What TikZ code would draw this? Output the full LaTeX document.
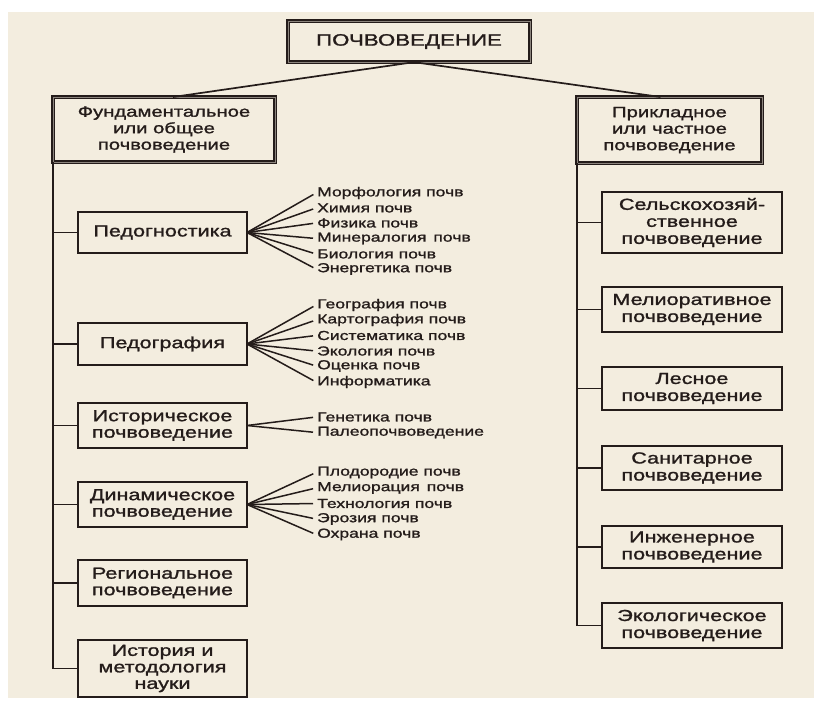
\documentclass[tikz,border=0pt]{standalone}
\usepackage{fontspec}
\setmainfont{Liberation Sans}[FakeStretch=1.35, FakeBold=1.3]
\definecolor{paper}{RGB}{243,237,223}
\definecolor{ink}{RGB}{36,28,26}
\tikzset{
  lbox/.style={draw=ink, line width=2.6, minimum width=169, inner sep=0, outer sep=0,
    align=center, text=ink, font=\fontsize{16}{16.5}\selectfont},
  rbox/.style={draw=ink, line width=2.4, minimum width=180, inner sep=0, outer sep=0,
    align=center, text=ink, font=\fontsize{16}{17}\selectfont},
  dbox/.style={draw=ink, line width=1.6, double=ink!50!paper, double distance=0.9,
    inner sep=0, outer sep=0, align=center, text=ink},
  br/.style={anchor=west, inner sep=1, text=ink, font=\fontsize{13}{13.5}\selectfont},
  con/.style={draw=ink, line width=1.7},
  fan/.style={draw=ink, line width=1.5, shorten >=3},
}
\begin{document}
\begin{tikzpicture}[x=1pt,y=-1pt]
\useasboundingbox (0,0) rectangle (814,702);
\fill[white] (0,0) rectangle (814,702);
\fill[paper] (8,12) rectangle (814,698);

% top level
\node[dbox, minimum width=242, minimum height=41, font=\fontsize{16.5}{17}\selectfont] (top) at (409,41.5) {ПОЧВОВЕДЕНИЕ};
\node[dbox, minimum width=222, minimum height=65, font=\fontsize{15}{16.5}\selectfont] (fund) at (164,129.5) {Фундаментальное\\или общее\\почвоведение};
\node[dbox, minimum width=185, minimum height=66, font=\fontsize{15}{16.5}\selectfont] (appl) at (669.5,130) {Прикладное\\или частное\\почвоведение};
\draw[con] ([xshift=6]top.south) -- ([xshift=9]fund.north);
\draw[con] ([xshift=4]top.south) -- ([xshift=-9]appl.north);

% left column
\node[lbox, minimum height=41] (pedog) at (162.5,232.5) {Педогностика};
\node[lbox, minimum height=42] (pedgr) at (162.5,344) {Педография};
\node[lbox, minimum height=45] (istor) at (162.5,425.5) {Историческое\\почвоведение};
\node[lbox, minimum height=45] (dinam) at (162.5,504.5) {Динамическое\\почвоведение};
\node[lbox, minimum height=46] (regio) at (162.5,583) {Региональное\\почвоведение};
\node[lbox, minimum height=57] (nauka) at (162.5,668.5) {История и\\методология\\науки};

\draw[con] (fund.south west) |- (nauka.west);
\foreach \n in {pedog,pedgr,istor,dinam,regio}
  \draw[con] (\n.west) -- (\n.west -| fund.south west);

% right column
\node[rbox, minimum height=61] (selsk) at (692,222.5) {Сельскохозяй-\\ственное\\почвоведение};
\node[rbox, minimum height=45] (melio) at (692,309.5) {Мелиоративное\\почвоведение};
\node[rbox, minimum height=43] (lesno) at (692,388.5) {Лесное\\почвоведение};
\node[rbox, minimum height=44] (sanit) at (692,468) {Санитарное\\почвоведение};
\node[rbox, minimum height=42] (inzhe) at (692,547) {Инженерное\\почвоведение};
\node[rbox, minimum height=45] (ekolo) at (692,625.5) {Экологическое\\почвоведение};

\draw[con] (appl.south west) |- (ekolo.west);
\foreach \n in {selsk,melio,lesno,sanit,inzhe}
  \draw[con] (\n.west) -- (\n.west -| appl.south west);

% branches: Педогностика
\node[br] (a1) at (316,193) {Морфология почв};
\node[br] (a2) at (316,208) {Химия почв};
\node[br] (a3) at (316,223) {Физика почв};
\node[br] (a4) at (316,238.5) {Минералогия\hspace{2pt} почв};
\node[br] (a5) at (316,254) {Биология почв};
\node[br] (a6) at (316,269) {Энергетика почв};
\foreach \n in {a1,a2,a3,a4,a5,a6} \draw[fan] (pedog.east) -- (\n.west);

% branches: Педография
\node[br] (g1) at (316,305) {География почв};
\node[br] (g2) at (316,320) {Картография почв};
\node[br] (g3) at (316,335.5) {Систематика почв};
\node[br] (g4) at (316,351) {Экология почв};
\node[br] (g5) at (316,366) {Оценка почв};
\node[br] (g6) at (316,382) {Информатика};
\foreach \n in {g1,g2,g3,g4,g5,g6} \draw[fan] (pedgr.east) -- (\n.west);

% branches: Историческое
\node[br] (h1) at (316,417) {Генетика почв};
\node[br] (h2) at (316,432.5) {Палеопочвоведение};
\foreach \n in {h1,h2} \draw[fan] (istor.east) -- (\n.west);

% branches: Динамическое
\node[br] (d1) at (316,472.5) {Плодородие почв};
\node[br] (d2) at (316,488) {Мелиорация\hspace{2pt} почв};
\node[br] (d3) at (316,503.5) {Технология почв};
\node[br] (d4) at (316,519) {Эрозия почв};
\node[br] (d5) at (316,534.5) {Охрана почв};
\foreach \n in {d1,d2,d3,d4,d5} \draw[fan] (dinam.east) -- (\n.west);
\end{tikzpicture}
\end{document}
